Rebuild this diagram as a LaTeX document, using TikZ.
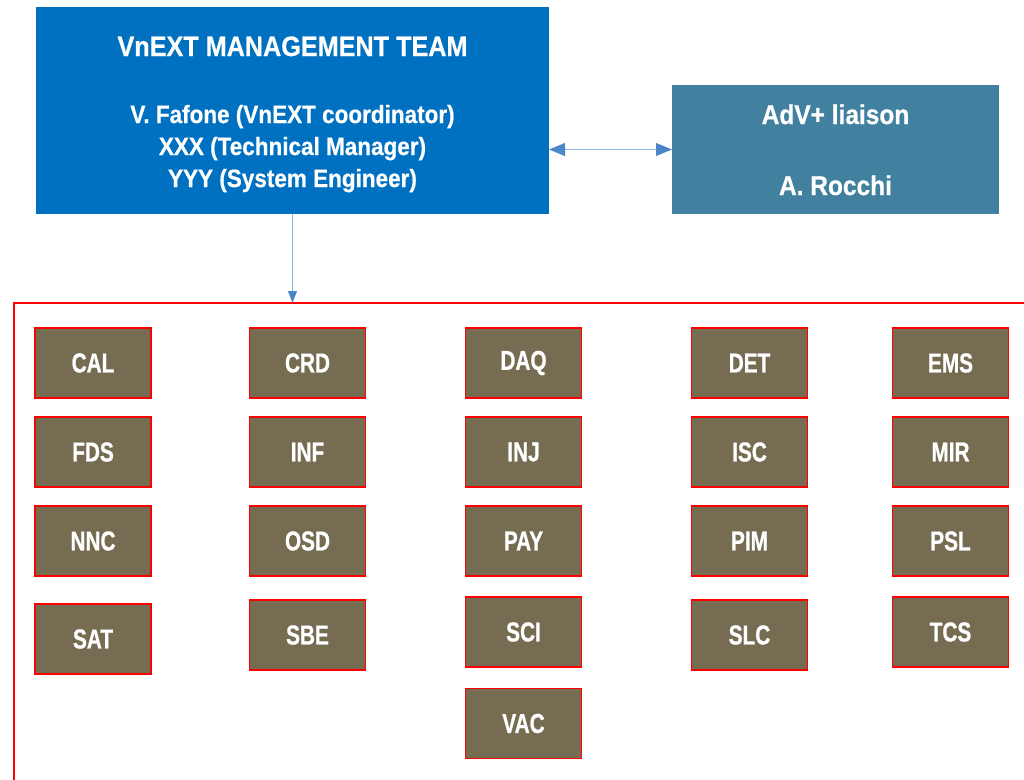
\documentclass[tikz,border=0pt]{standalone}
\usepackage{fontspec}
\setmainfont{Liberation Sans}[FakeStretch=0.9, FakeBold=0.6]
\newfontfamily\wgfont{Liberation Sans}[FakeStretch=0.76, FakeBold=0.8]
\usetikzlibrary{arrows.meta, positioning}

\definecolor{mgmtblue}{HTML}{0070C0}
\definecolor{liaisonteal}{HTML}{41809E}
\definecolor{wgbrown}{HTML}{756C52}
\definecolor{linkblue}{HTML}{8DB4E2}
\definecolor{tipblue}{HTML}{4A86C8}

\begin{document}
\begin{tikzpicture}[
    x=0.75pt, y=-0.75pt,
    panel/.style={minimum width=#1, outer sep=0pt, inner sep=0pt},
    mgmttext/.style={text=white, font=\bfseries\fontsize{18.75}{24}\selectfont, anchor=base},
    wg/.style={draw=red, line width=1pt, fill=wgbrown, text=white, minimum width=87pt, minimum height=52.5pt,
        inner sep=0pt, font=\wgfont\bfseries\fontsize{20.5}{24}\selectfont},
    link/.style={draw=linkblue, line width=1.4pt},
    bigtip/.tip={Triangle[length=12pt, width=9.5pt, color=tipblue]},
    smalltip/.tip={Triangle[length=9pt, width=6.5pt, color=tipblue]}
]
\clip (0,0) rectangle (1024,779);

% management and liaison boxes
\node[panel=384.75pt, minimum height=155.25pt, fill=mgmtblue] (mgmt) at (292.5,110.5) {};
\node[mgmttext, font=\bfseries\fontsize{21}{24}\selectfont] (mgmttitle) at (292.5,56) {VnEXT MANAGEMENT TEAM};
\node[mgmttext] (coord) at (292.5,123) {V. Fafone (VnEXT coordinator)};
\node[mgmttext] (techman) at (292.5,155) {XXX (Technical Manager)};
\node[mgmttext] (syseng) at (292.5,187) {YYY (System Engineer)};

\node[panel=245.25pt, minimum height=96.75pt, fill=liaisonteal] (liaison) at (835.5,149.5) {};
\node[mgmttext, font=\bfseries\fontsize{20.4}{24}\selectfont] (liaisontitle) at (835.5,124) {AdV+ liaison};
\node[mgmttext, font=\bfseries\fontsize{20.4}{24}\selectfont] (rocchi) at (835.5,195) {A. Rocchi};

% frame round the working groups
\node[draw=red, line width=1.5pt, panel=780pt, minimum height=370pt, anchor=north west] (wgframe) at (14,303) {};

% working groups, column by column
\node[wg] (cal) at (93,363) {CAL};
\node[wg] (fds) at (93,452) {FDS};
\node[wg] (nnc) at (93,541) {NNC};
\node[wg] (sat) at (93,639) {SAT};

\node[wg] (crd) at (307.5,363) {CRD};
\node[wg] (inf) at (307.5,452) {INF};
\node[wg] (osd) at (307.5,541) {OSD};
\node[wg] (sbe) at (307.5,635) {SBE};

\node[wg] (daq) at (523.5,363) {DAQ};
\node[wg] (inj) at (523.5,452) {INJ};
\node[wg] (pay) at (523.5,541) {PAY};
\node[wg] (sci) at (523.5,632) {SCI};
\node[wg] (vac) at (523.5,723.5) {VAC};

\node[wg] (det) at (749.5,363) {DET};
\node[wg] (isc) at (749.5,452) {ISC};
\node[wg] (pim) at (749.5,541) {PIM};
\node[wg] (slc) at (749.5,635) {SLC};

\node[wg] (ems) at (950.5,363) {EMS};
\node[wg] (mir) at (950.5,452) {MIR};
\node[wg] (psl) at (950.5,541) {PSL};
\node[wg] (tcs) at (950.5,632) {TCS};

\draw[link, bigtip-bigtip] (mgmt.east |- liaison.west) -- (liaison.west);
\draw[link, -smalltip] (mgmt.south) -- (mgmt.south |- wgframe.north);
\end{tikzpicture}
\end{document}
